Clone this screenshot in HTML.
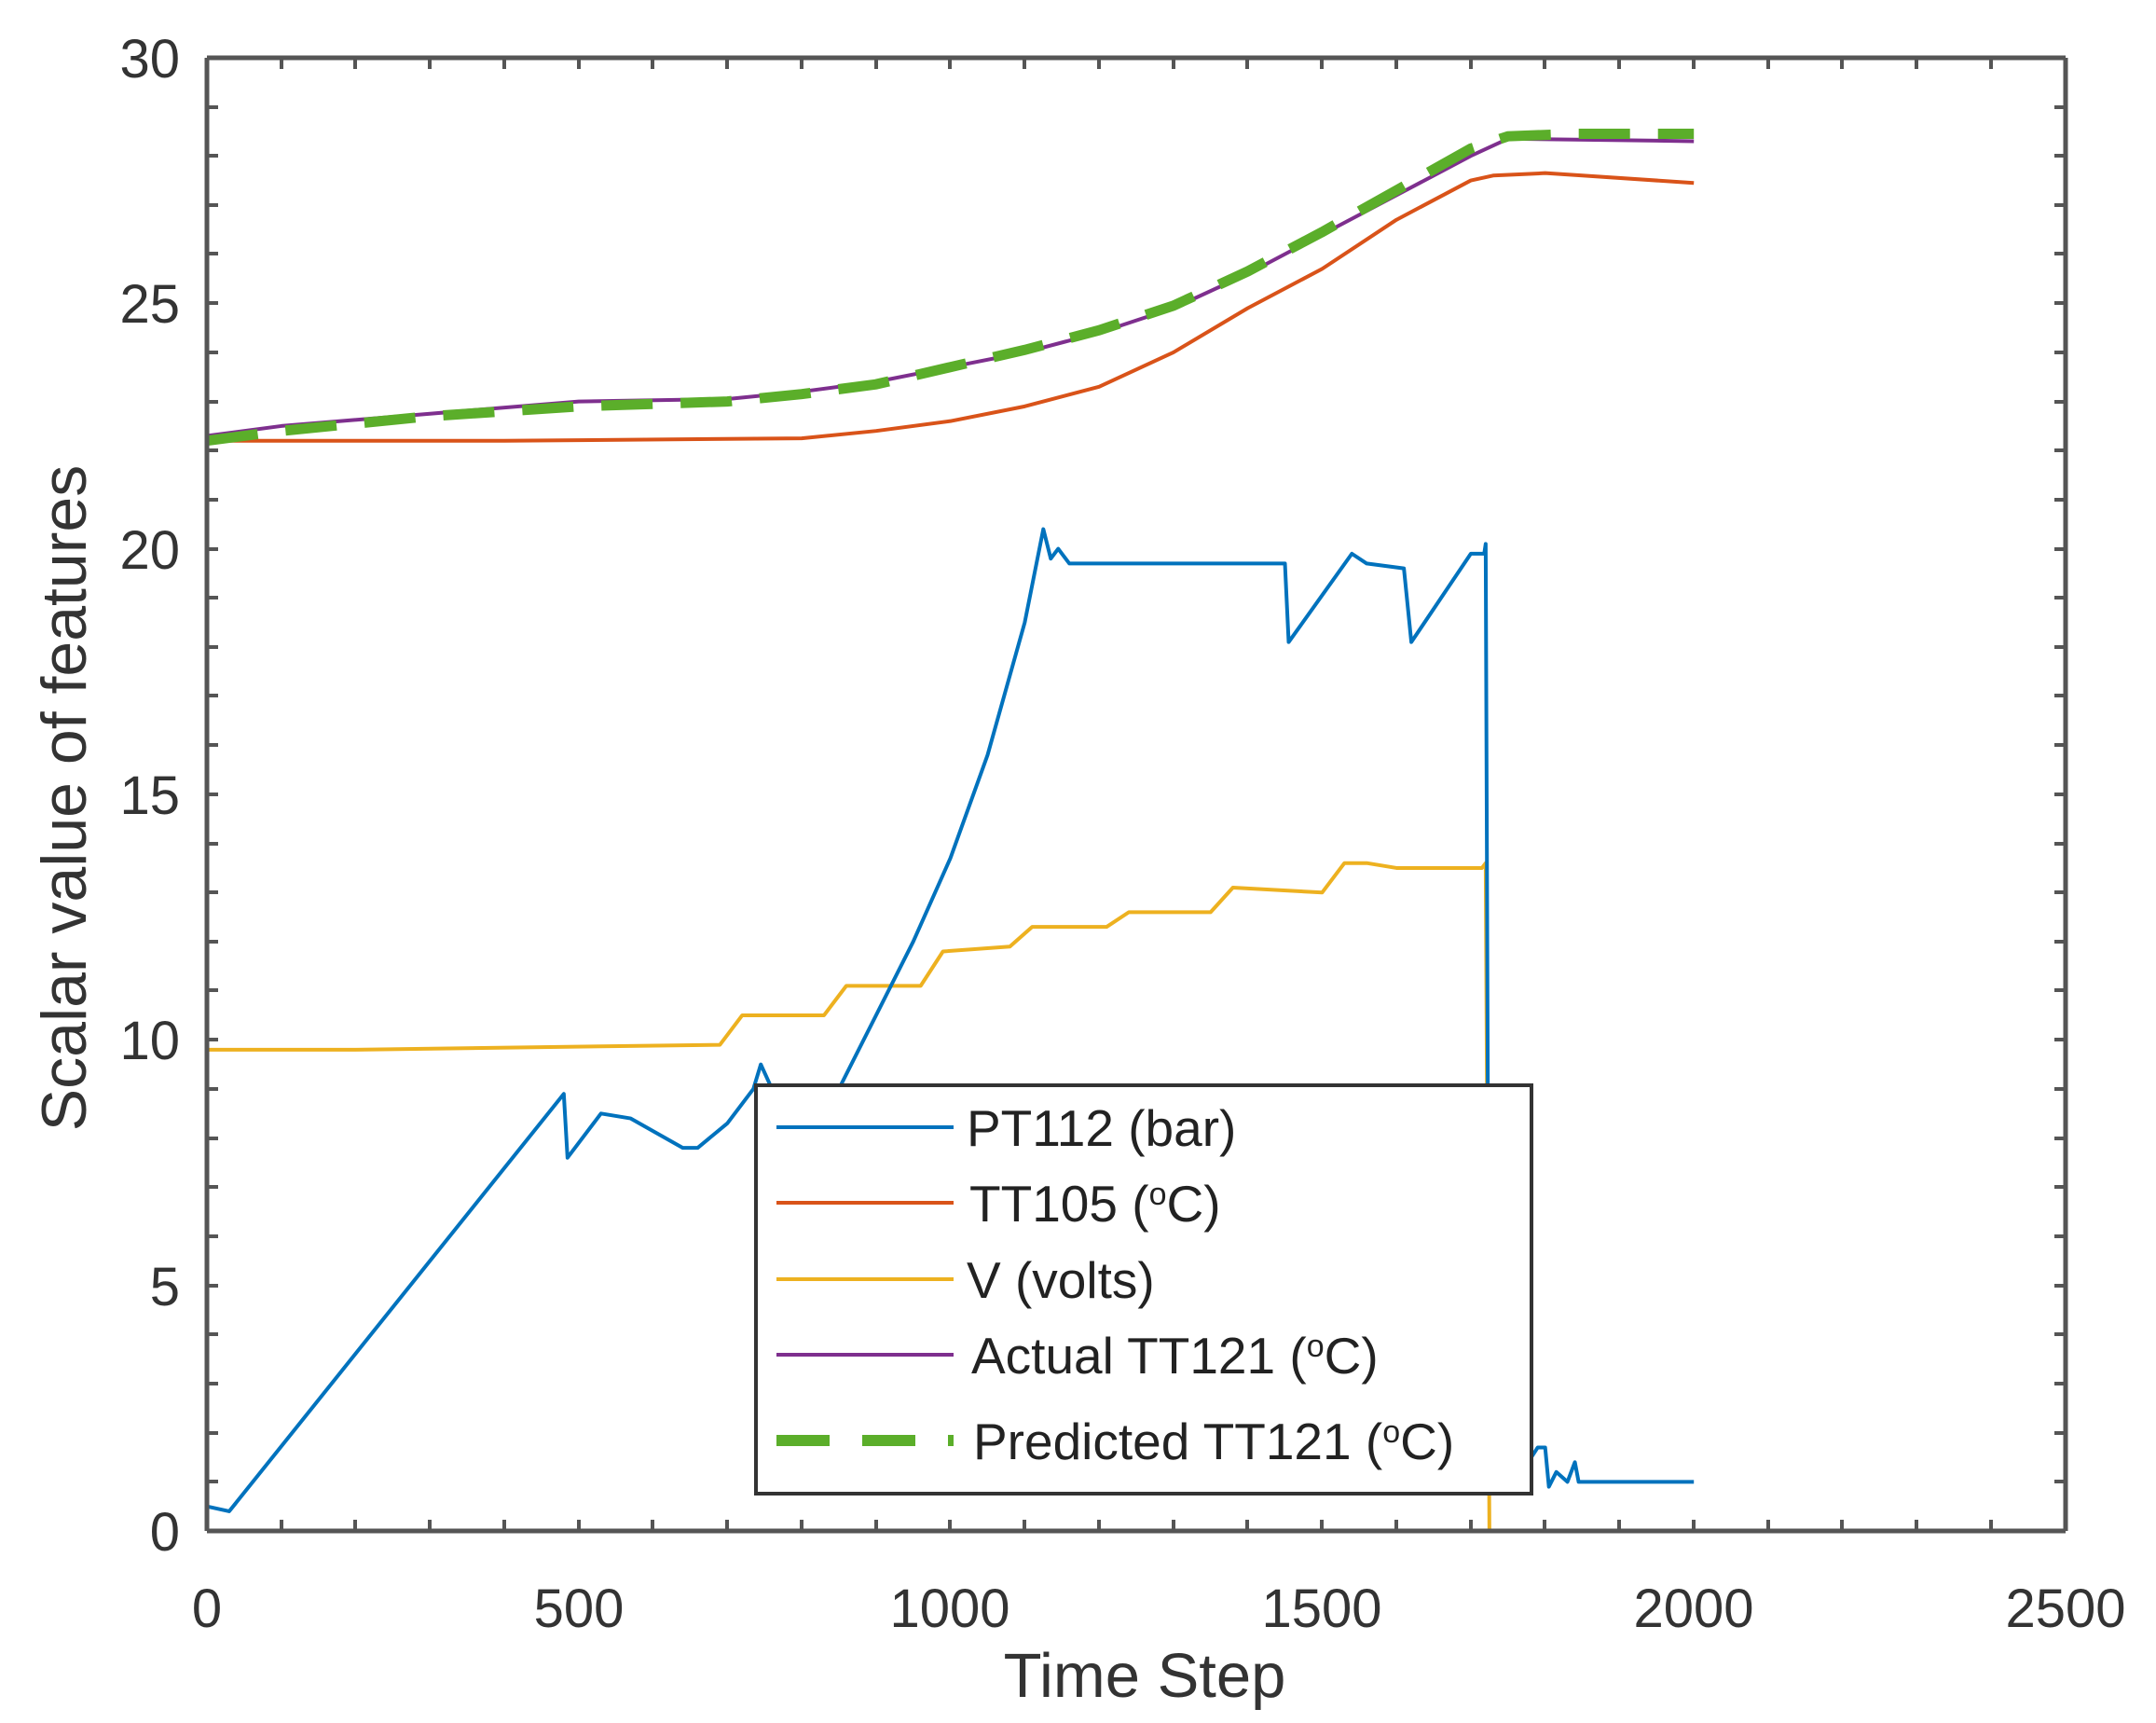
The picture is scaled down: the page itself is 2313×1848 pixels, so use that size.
<!DOCTYPE html>
<html><head><meta charset="utf-8"><style>
html,body{margin:0;padding:0;background:#fff;}
svg{display:block;font-family:"Liberation Sans",sans-serif;}
</style></head><body>
<svg width="2313" height="1848" viewBox="0 0 2313 1848" xmlns="http://www.w3.org/2000/svg">
<rect width="2313" height="1848" fill="#fff"/>
<g transform="translate(222,1642) scale(0.7976,-52.67)" fill="none" stroke-linejoin="round">
<polyline vector-effect="non-scaling-stroke" stroke="#EDB120" stroke-width="4" points="0,9.8 200,9.8 690,9.9 720,10.5 830,10.5 860,11.1 960,11.1 990,11.8 1080,11.9 1110,12.3 1210,12.3 1240,12.6 1350,12.6 1380,13.1 1500,13.0 1530,13.6 1560,13.6 1600,13.5 1715,13.5 1720,13.6 1725,0 2000,0"/>
<polyline vector-effect="non-scaling-stroke" stroke="#D95319" stroke-width="4" points="0,22.2 400,22.2 800,22.25 900,22.4 1000,22.6 1100,22.9 1200,23.3 1300,24.0 1400,24.9 1500,25.7 1600,26.7 1700,27.5 1730,27.6 1800,27.65 1850,27.6 2000,27.45"/>
<polyline vector-effect="non-scaling-stroke" stroke="#7E2F8E" stroke-width="4" points="0,22.3 100,22.5 300,22.75 500,23.0 700,23.05 800,23.2 900,23.4 1000,23.7 1100,24.0 1200,24.4 1300,24.9 1400,25.6 1500,26.4 1600,27.2 1700,28.0 1750,28.35 2000,28.3"/>
<polyline vector-effect="non-scaling-stroke" stroke="#5BAE2A" stroke-width="11" stroke-dasharray="55 30" stroke-linejoin="miter" points="0,22.2 100,22.4 300,22.7 500,22.9 700,23.0 800,23.15 900,23.35 1000,23.7 1100,24.05 1200,24.45 1300,24.95 1400,25.65 1500,26.45 1600,27.3 1700,28.15 1750,28.4 1840,28.45 2000,28.45"/>
<polyline vector-effect="non-scaling-stroke" stroke="#0072BD" stroke-width="4" points="0,0.5 30,0.4 480,8.9 485,7.6 530,8.5 570,8.4 640,7.8 660,7.8 700,8.3 735,9.0 745,9.5 760,9.0 800,8.6 850,9.0 900,10.5 950,12 1000,13.7 1050,15.8 1100,18.5 1125,20.4 1135,19.8 1145,20.0 1160,19.7 1300,19.7 1450,19.7 1455,18.1 1540,19.9 1560,19.7 1610,19.6 1620,18.1 1700,19.9 1718,19.9 1720,20.1 1725,0.8 1760,1.0 1790,1.7 1800,1.7 1805,0.9 1815,1.2 1830,1.0 1840,1.4 1845,1.0 2000,1.0"/>
</g>
<g stroke="#555" stroke-width="5">
<path d="M222,62V1642 M2216,62V1642 M222,62H2216 M222,1642H2216"/>
</g>
<g stroke="#555" stroke-width="4">
<path d="
M302,1642v-12M381,1642v-12M461,1642v-12M541,1642v-12M621,1642v-12M700,1642v-12M780,1642v-12M860,1642v-12M940,1642v-12M1019,1642v-12M1099,1642v-12M1179,1642v-12M1259,1642v-12M1338,1642v-12M1418,1642v-12M1498,1642v-12M1578,1642v-12M1657,1642v-12M1737,1642v-12M1817,1642v-12M1897,1642v-12M1976,1642v-12M2056,1642v-12M2136,1642v-12
M302,62v12M381,62v12M461,62v12M541,62v12M621,62v12M700,62v12M780,62v12M860,62v12M940,62v12M1019,62v12M1099,62v12M1179,62v12M1259,62v12M1338,62v12M1418,62v12M1498,62v12M1578,62v12M1657,62v12M1737,62v12M1817,62v12M1897,62v12M1976,62v12M2056,62v12M2136,62v12"/>
</g>
<g font-size="58" fill="#333" text-anchor="middle">
<text x="222" y="1745">0</text>
<text x="621" y="1745">500</text>
<text x="1019" y="1745">1000</text>
<text x="1418" y="1745">1500</text>
<text x="1817" y="1745">2000</text>
<text x="2216" y="1745">2500</text>
</g>
<g font-size="58" fill="#333" text-anchor="end">
<text x="193" y="1663">0</text>
<text x="193" y="1400">5</text>
<text x="193" y="1136">10</text>
<text x="193" y="873">15</text>
<text x="193" y="610">20</text>
<text x="193" y="346">25</text>
<text x="193" y="83">30</text>
</g>
<text x="1228" y="1820" font-size="67" fill="#333" text-anchor="middle">Time Step</text>
<text transform="translate(92,856) rotate(-90)" font-size="68" fill="#333" text-anchor="middle">Scalar value of features</text>
<rect x="811" y="1164" width="832" height="438" fill="#fff" stroke="#333" stroke-width="4"/>
<g stroke-width="4">
<line x1="833" y1="1209" x2="1023" y2="1209" stroke="#0072BD"/>
<line x1="833" y1="1290" x2="1023" y2="1290" stroke="#D95319"/>
<line x1="833" y1="1372" x2="1023" y2="1372" stroke="#EDB120"/>
<line x1="833" y1="1453" x2="1023" y2="1453" stroke="#7E2F8E"/>
<line x1="833" y1="1545" x2="1023" y2="1545" stroke="#5BAE2A" stroke-width="12" stroke-dasharray="57 35"/>
</g>
<g font-size="55" fill="#222">
<text x="1037" y="1229">PT112 (bar)</text>
<text x="1040" y="1310">TT105  (<tspan font-size="34" dy="-18">o</tspan><tspan dy="18">C)</tspan></text>
<text x="1037" y="1392">V (volts)</text>
<text x="1042" y="1473">Actual  TT121  (<tspan font-size="34" dy="-18">o</tspan><tspan dy="18">C)</tspan></text>
<text x="1044" y="1565">Predicted  TT121  (<tspan font-size="34" dy="-18">o</tspan><tspan dy="18">C)</tspan></text>
</g>
<path stroke="#555" stroke-width="4" d="
M222,1589h12M222,1537h12M222,1484h12M222,1431h12M222,1326h12M222,1273h12M222,1221h12M222,1168h12M222,1062h12M222,1010h12M222,957h12M222,905h12M222,799h12M222,746h12M222,694h12M222,641h12M222,536h12M222,483h12M222,431h12M222,378h12M222,272h12M222,220h12M222,167h12M222,115h12
M222,1379h12M222,1115h12M222,852h12M222,589h12M222,325h12
M2216,1589h-12M2216,1537h-12M2216,1484h-12M2216,1431h-12M2216,1379h-12M2216,1326h-12M2216,1273h-12M2216,1221h-12M2216,1168h-12M2216,1115h-12M2216,1062h-12M2216,1010h-12M2216,957h-12M2216,905h-12M2216,852h-12M2216,799h-12M2216,746h-12M2216,694h-12M2216,641h-12M2216,589h-12M2216,536h-12M2216,483h-12M2216,431h-12M2216,378h-12M2216,325h-12M2216,272h-12M2216,220h-12M2216,167h-12M2216,115h-12"/>
</svg>
</body></html>
